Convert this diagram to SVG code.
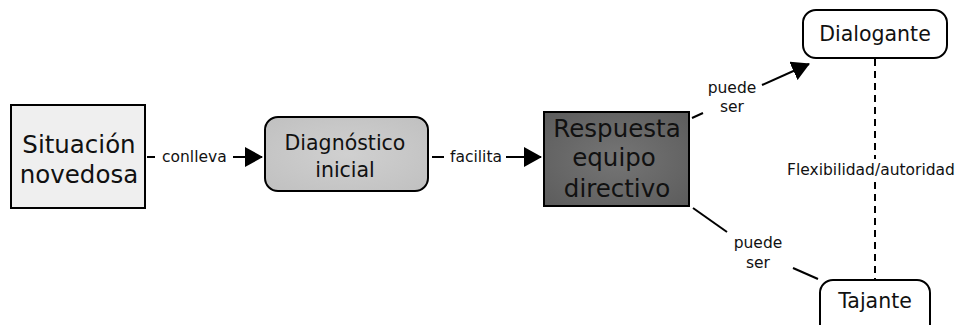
<svg xmlns="http://www.w3.org/2000/svg" width="964" height="325" viewBox="0 0 964 325">
<style>
.node{stroke:#000;stroke-width:2}
.big{font-family:"DejaVu Sans",Verdana,sans-serif;font-size:24.5px;fill:#111;text-anchor:middle}
.mid{font-family:"DejaVu Sans",Verdana,sans-serif;font-size:20.5px;fill:#111;text-anchor:middle}
.lbl{font-family:"DejaVu Sans",Verdana,sans-serif;font-size:15.5px;fill:#111}
.ln{stroke:#000;stroke-width:2;fill:none}
</style>
<defs>
<marker id="ah" markerWidth="18" markerHeight="20" refX="17" refY="10" orient="auto" markerUnits="userSpaceOnUse">
<path d="M0,0 L18,10 L0,20 z" fill="#000"/>
</marker>
<radialGradient id="g3" cx="50%" cy="50%" r="70%">
<stop offset="0" stop-color="#757575"/>
<stop offset="1" stop-color="#5c5c5c"/>
</radialGradient>
<radialGradient id="g2" cx="50%" cy="50%" r="70%">
<stop offset="0" stop-color="#d0d0d0"/>
<stop offset="1" stop-color="#c0c0c0"/>
</radialGradient>
</defs>
<g id="connectors">
<line class="ln" x1="147" y1="157" x2="155" y2="157"/>
<text class="lbl" x="162" y="162">conlleva</text>
<line class="ln" x1="233" y1="157" x2="262" y2="157" marker-end="url(#ah)"/>
<line class="ln" x1="432" y1="157" x2="444" y2="157"/>
<text class="lbl" x="450" y="162">facilita</text>
<line class="ln" x1="506" y1="157" x2="541" y2="157" marker-end="url(#ah)"/>
<line class="ln" x1="692" y1="118" x2="703" y2="113"/>
<text class="lbl" x="732" y="93" text-anchor="middle">puede</text>
<text class="lbl" x="732" y="112" text-anchor="middle">ser</text>
<line class="ln" x1="762" y1="85" x2="809" y2="64" marker-end="url(#ah)"/>
<line class="ln" x1="693" y1="208" x2="727" y2="232"/>
<text class="lbl" x="758" y="248" text-anchor="middle">puede</text>
<text class="lbl" x="758" y="268" text-anchor="middle">ser</text>
<line class="ln" x1="793" y1="268" x2="818" y2="279"/>
<line x1="875" y1="59" x2="875" y2="159" stroke="#000" stroke-width="2" stroke-dasharray="7,5"/>
<line x1="875" y1="182" x2="875" y2="280" stroke="#000" stroke-width="2" stroke-dasharray="7,5"/>
<text class="lbl" x="871" y="175" text-anchor="middle">Flexibilidad/autoridad</text>
</g>
<g id="situacion">
<rect class="node" x="11" y="105" width="134" height="103" fill="#efefef"/>
<text class="big" x="79" y="153">Situación</text>
<text class="big" x="79" y="183">novedosa</text>
</g>
<g id="diagnostico">
<rect class="node" x="265" y="117" width="163" height="74" rx="13" fill="url(#g2)"/>
<text class="mid" x="345" y="150">Diagnóstico</text>
<text class="mid" x="345" y="177">inicial</text>
</g>
<g id="respuesta">
<rect class="node" x="544" y="112" width="145" height="94" fill="url(#g3)"/>
<text class="big" x="617" y="137">Respuesta</text>
<text class="big" x="614" y="166">equipo</text>
<text class="big" x="617" y="197">directivo</text>
</g>
<g id="dialogante">
<rect class="node" x="803" y="10" width="144" height="48" rx="13" fill="#fff"/>
<text class="mid" x="875" y="41">Dialogante</text>
</g>
<g id="tajante">
<rect class="node" x="820" y="280" width="110" height="60" rx="13" fill="#fff"/>
<text class="mid" x="875" y="308">Tajante</text>
</g>
</svg>
